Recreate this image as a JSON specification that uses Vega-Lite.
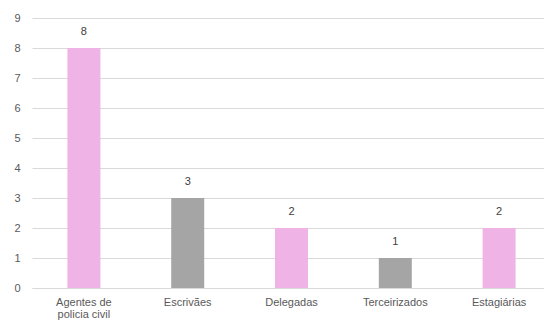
{
  "$schema": "https://vega.github.io/schema/vega-lite/v6.json",
  "width": 512,
  "height": 270,
  "autosize": "none",
  "padding": {"left": 32, "top": 18, "right": 0, "bottom": 41},
  "background": "white",
  "data": {"values": [
    {"categoria": "Agentes de policia civil", "valor": 8},
    {"categoria": "Escrivães", "valor": 3},
    {"categoria": "Delegadas", "valor": 2},
    {"categoria": "Terceirizados", "valor": 1},
    {"categoria": "Estagiárias", "valor": 2}
  ]},
  "config": {
    "view": {"stroke": null},
    "font": "Liberation Sans",
    "axisY": {"tickCount": 10, "labelOverlap": false}
  },
  "encoding": {
    "x": {
      "field": "categoria", "type": "nominal", "sort": null,
      "scale": {"range": [0, 519], "paddingInner": 0, "paddingOuter": 0},
      "axis": {
        "title": null, "labelAngle": 0, "ticks": false, "domain": true,
        "domainColor": "#D9D9D9", "labelColor": "#595959", "labelFontSize": 11,
        "labelPadding": 8, "labelLimit": 0, "labelLineHeight": 12,
        "labelExpr": "datum.label == 'Agentes de policia civil' ? ['Agentes de', 'policia civil'] : datum.label"
      }
    },
    "y": {
      "field": "valor", "type": "quantitative",
      "scale": {"domain": [0, 9], "nice": false},
      "axis": {
        "title": null, "tickCount": 10, "tickMinStep": 1, "labelOverlap": false,
        "domain": false, "ticks": false, "gridColor": "#D9D9D9",
        "labelColor": "#595959", "labelFontSize": 11, "labelPadding": 12
      }
    }
  },
  "layer": [
    {
      "mark": {"type": "bar", "width": 33},
      "encoding": {
        "color": {
          "field": "categoria", "type": "nominal", "legend": null,
          "scale": {
            "domain": ["Agentes de policia civil", "Escrivães", "Delegadas", "Terceirizados", "Estagiárias"],
            "range": ["#EFB4E5", "#A5A5A5", "#EFB4E5", "#A5A5A5", "#EFB4E5"]
          }
        }
      }
    },
    {
      "mark": {"type": "text", "dy": -16, "fontSize": 11, "color": "#404040"},
      "encoding": {"text": {"field": "valor", "type": "quantitative"}}
    }
  ]
}
